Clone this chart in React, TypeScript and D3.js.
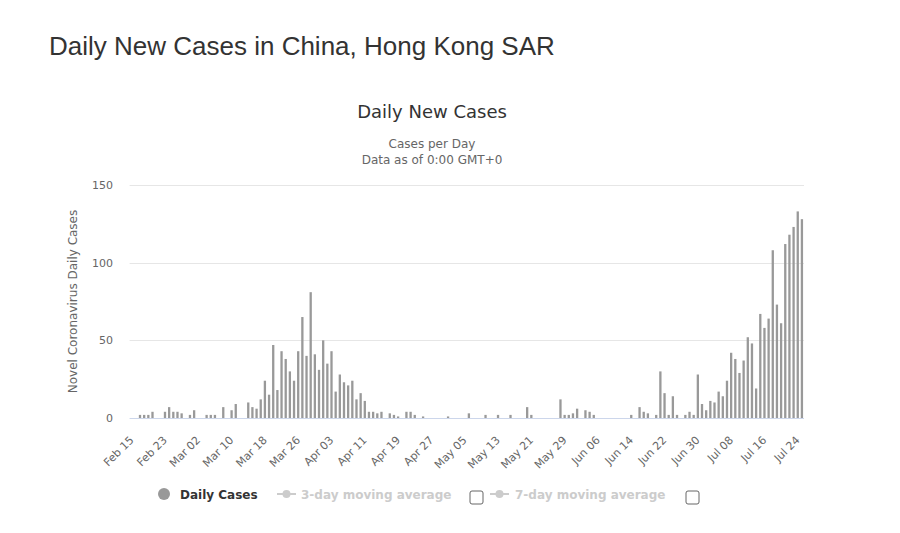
import React from "react";
import * as d3 from "d3";

// Daily new cases, Hong Kong SAR, Feb 15 – Jul 25 (2020)
const febValues = [0, 0, 2, 2, 2, 4, 0, 0, 4, 7, 4, 4, 3, 0, 2]; // Feb 15-29
const marValues = [5, 0, 0, 2, 2, 2, 0, 7, 0, 5, 9, 0, 0, 10, 7, 6, 12, 24, 15, 47, 18, 43, 38, 30, 24, 43, 65, 40, 81, 41, 31];
const aprValues = [50, 35, 43, 17, 28, 23, 21, 24, 12, 16, 11, 4, 4, 3, 4, 0, 3, 2, 1, 0, 4, 4, 2, 0, 1, 0, 0, 0, 0, 0];
const mayValues = [1, 0, 0, 0, 0, 3, 0, 0, 0, 2, 0, 0, 2, 0, 0, 2, 0, 0, 0, 7, 2, 0, 0, 0, 0, 0, 0, 12, 2, 2, 3];
const junValues = [6, 0, 5, 4, 2, 0, 0, 0, 0, 0, 0, 0, 0, 2, 0, 7, 4, 3, 0, 2, 30, 16, 2, 14, 2, 0, 2, 4, 2, 28];
const julValues = [9, 5, 11, 10, 17, 14, 24, 42, 38, 29, 37, 52, 48, 19, 67, 58, 64, 108, 73, 61, 112, 118, 123, 133, 128];

const values = [...febValues, ...marValues, ...aprValues, ...mayValues, ...junValues, ...julValues];
const dates = d3.timeDay.range(new Date(2020, 1, 15), new Date(2020, 1, 15 + values.length));
const fmt = d3.timeFormat("%b %d");
const categories = dates.map((d) => fmt(d));
const yTicks = [0, 50, 100, 150];
const tickEvery = 8;
const legendItems = ["Daily Cases", "3-day moving average", "7-day moving average"];

const W = 900;
const H = 533;
const plotLeft = 129.6;
const plotRight = 804;
const plotTop = 185;
const plotBottom = 418;

export default function App() {
  const x = d3
    .scaleBand<number>()
    .domain(values.map((_, i) => i))
    .range([plotLeft, plotRight])
    .padding(0);
  const y = d3.scaleLinear().domain([0, 150]).range([plotBottom, plotTop]);
  const barW = 2.3;
  const font = "'DejaVu Sans', 'Lucida Grande', sans-serif";

  return (
    <svg
      width={W}
      height={H}
      style={{ position: "absolute", left: 0, top: 0, background: "#fff" }}
    >
      <text x={49} y={55} fontFamily="'Liberation Sans', Arial, sans-serif" fontSize={26} fill="#333">
        Daily New Cases in China, Hong Kong SAR
      </text>
      <text x={432} y={118} textAnchor="middle" fontFamily={font} fontSize={18} fill="#333">
        Daily New Cases
      </text>
      <text x={432} y={148} textAnchor="middle" fontFamily={font} fontSize={12} fill="#666">
        Cases per Day
      </text>
      <text x={432} y={164} textAnchor="middle" fontFamily={font} fontSize={12} fill="#666">
        Data as of 0:00 GMT+0
      </text>

      {/* gridlines */}
      {yTicks.map((t) => (
        <g key={t}>
          {t > 0 && (
            <line x1={plotLeft} x2={plotRight} y1={Math.round(y(t)) + 0.5} y2={Math.round(y(t)) + 0.5} stroke="#e6e6e6" />
          )}
          <text x={113} y={y(t) + 4} textAnchor="end" fontFamily={font} fontSize={11} fill="#666">
            {t}
          </text>
        </g>
      ))}
      <line x1={plotLeft} x2={plotRight} y1={plotBottom + 0.5} y2={plotBottom + 0.5} stroke="#ccd6eb" />

      <text
        transform={`translate(77, ${(plotTop + plotBottom) / 2}) rotate(-90)`}
        textAnchor="middle"
        fontFamily={font}
        fontSize={12}
        fill="#666"
      >
        Novel Coronavirus Daily Cases
      </text>

      {/* bars */}
      {values.map((v, i) =>
        v > 0 ? (
          <rect
            key={i}
            x={(x(i) as number) + x.bandwidth() / 2 - barW / 2}
            y={y(v)}
            width={barW}
            height={plotBottom - y(v)}
            fill="#999"
          />
        ) : null
      )}

      {/* x labels */}
      {categories.map((c, i) =>
        i % tickEvery === 0 ? (
          <text
            key={c}
            transform={`translate(${(x(i) as number) + x.bandwidth() / 2}, 438) rotate(-45)`}
            textAnchor="end"
            dy="0.35em"
            fontFamily={font}
            fontSize={11}
            fill="#666"
          >
            {c}
          </text>
        ) : null
      )}

      {/* legend */}
      <circle cx={164} cy={494} r={6} fill="#999" />
      <text x={180} y={498.5} fontFamily={font} fontSize={12} fontWeight="bold" fill="#333">
        {legendItems[0]}
      </text>
      <line x1={277} x2={296} y1={494} y2={494} stroke="#ccc" strokeWidth={2} />
      <circle cx={286.5} cy={494} r={4} fill="#ccc" />
      <text x={301} y={498.5} fontFamily={font} fontSize={12} fontWeight="bold" fill="#ccc">
        {legendItems[1]}
      </text>
      <rect x={470} y={491} width={13} height={13} rx={2} fill="#fff" stroke="#666" />
      <line x1={490} x2={509} y1={494} y2={494} stroke="#ccc" strokeWidth={2} />
      <circle cx={499.5} cy={494} r={4} fill="#ccc" />
      <text x={515} y={498.5} fontFamily={font} fontSize={12} fontWeight="bold" fill="#ccc">
        {legendItems[2]}
      </text>
      <rect x={686} y={491} width={13} height={13} rx={2} fill="#fff" stroke="#666" />
    </svg>
  );
}
